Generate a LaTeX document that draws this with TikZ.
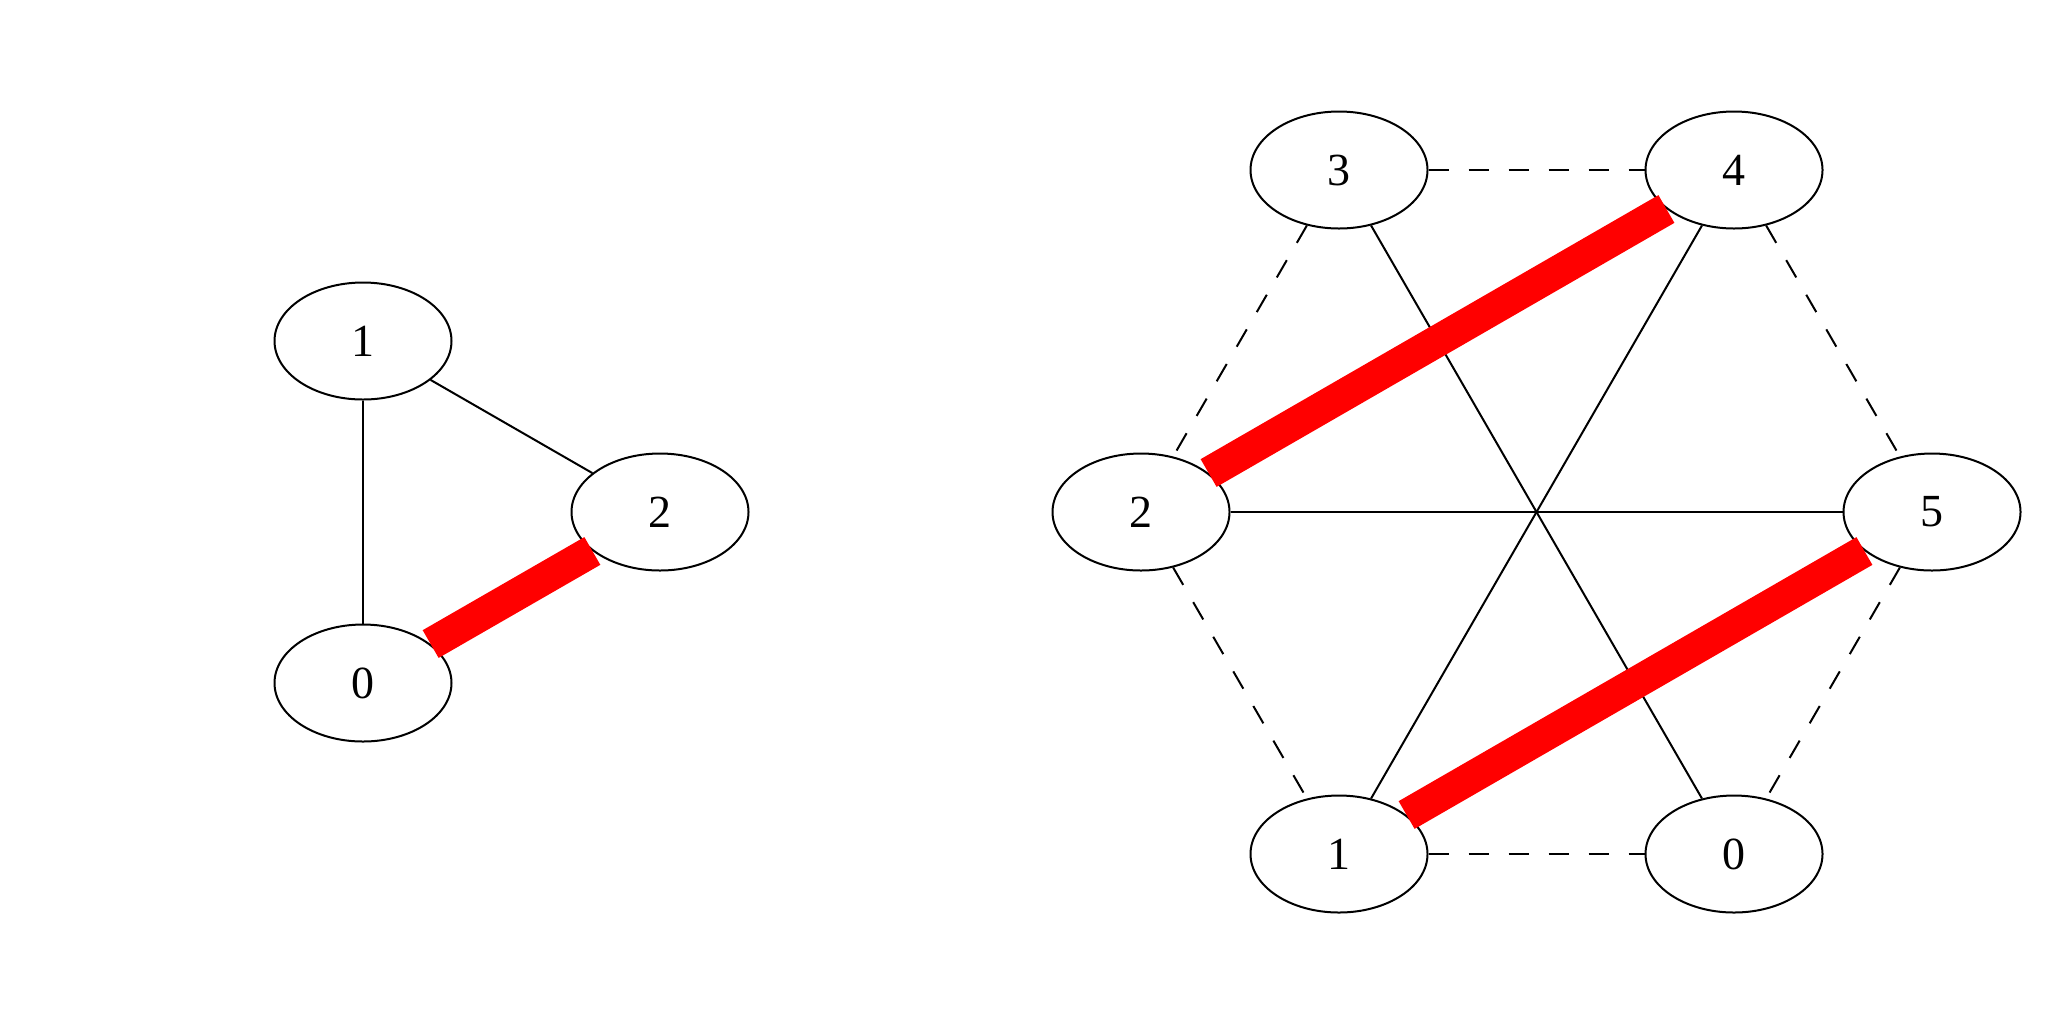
\documentclass[tikz,border=0pt]{standalone}
\usepackage{fontspec}
\setmainfont{Liberation Serif}
\usetikzlibrary{shapes.geometric}
\begin{document}
\begin{tikzpicture}[x=0.5pt,y=-0.5pt,
  vert/.style={ellipse, draw=black, line width=1pt, minimum width=88.5pt, minimum height=58.5pt, inner sep=0pt, font=\fontsize{23}{23}\selectfont},
  plainedge/.style={draw=black, line width=1pt},
  dashedge/.style={draw=black, line width=1pt, dash pattern=on 10pt off 10pt},
  hledge/.style={draw=red, line width=16pt}]
\useasboundingbox (0,0) rectangle (2048,1024);
\fill[white] (0,0) rectangle (2048,1024);
% left graph
\node[vert] (L1) at (363,341) {1};
\node[vert] (L2) at (660,512) {2};
\node[vert] (L0) at (363,683) {0};
% right graph
\node[vert] (R3) at (1339,170) {3};
\node[vert] (R4) at (1734,170) {4};
\node[vert] (R2) at (1141,512) {2};
\node[vert] (R5) at (1932,512) {5};
\node[vert] (R1) at (1339,854) {1};
\node[vert] (R0) at (1734,854) {0};
% left edges
\draw[plainedge] (L1) -- (L0);
\draw[plainedge] (L1) -- (L2);
% right edges
\draw[dashedge] (R3) -- (R4);
\draw[dashedge] (R3) -- (R2);
\draw[plainedge] (R3) -- (R0);
\draw[plainedge] (R4) -- (R1);
\draw[dashedge] (R4) -- (R5);
\draw[plainedge] (R2) -- (R5);
\draw[dashedge] (R2) -- (R1);
\draw[dashedge] (R5) -- (R0);
\draw[dashedge] (R1) -- (R0);
% highlighted edges
\draw[hledge] (L0) -- (L2);
\draw[hledge] (R2) -- (R4);
\draw[hledge] (R1) -- (R5);
\end{tikzpicture}
\end{document}
